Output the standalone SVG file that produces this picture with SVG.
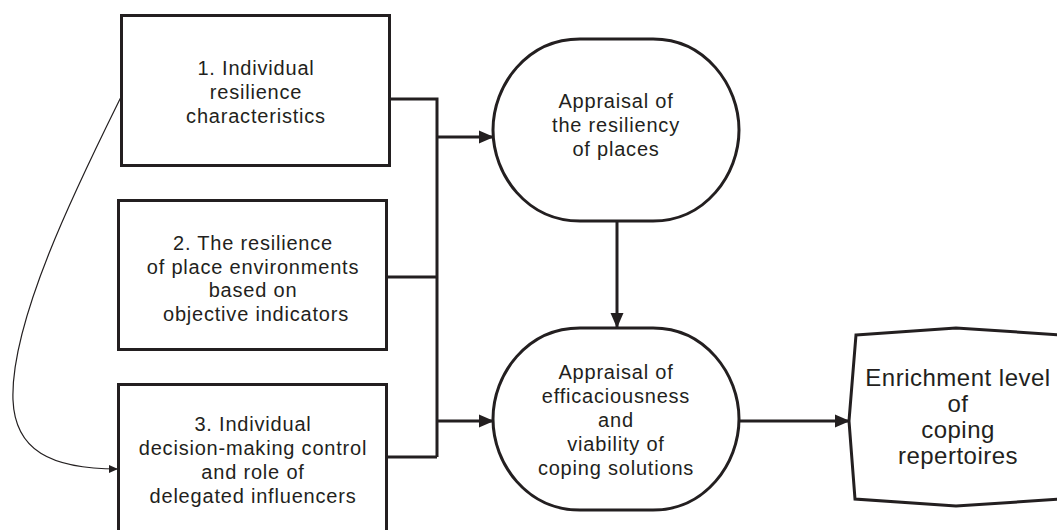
<svg xmlns="http://www.w3.org/2000/svg" width="1057" height="530" viewBox="0 0 1057 530">
  <style>
    .shape { fill: #ffffff; stroke: #231f20; stroke-width: 3; }
    .line { fill: none; stroke: #231f20; stroke-width: 3; }
    .thin { fill: none; stroke: #231f20; stroke-width: 1.2; }
    .t { font-family: "Liberation Sans", Arial, sans-serif; font-size: 20px; letter-spacing: 0.8px; fill: #231f20; text-anchor: middle; }
    .tb { font-family: "Liberation Sans", Arial, sans-serif; font-size: 24px; letter-spacing: 0.5px; fill: #231f20; text-anchor: middle; }
  </style>
  <defs>
    <marker id="arrow" markerUnits="userSpaceOnUse" markerWidth="16" markerHeight="16" viewBox="0 0 16 16" refX="15" refY="8" orient="auto">
      <path d="M0,1.5 L15,8 L0,14.5 Z" fill="#231f20"/>
    </marker>
    <marker id="arrowSmall" markerUnits="userSpaceOnUse" markerWidth="10" markerHeight="10" viewBox="0 0 10 10" refX="9" refY="5" orient="auto">
      <path d="M0,1 L9,5 L0,9 Z" fill="#231f20"/>
    </marker>
  </defs>

  <g id="connectors">
    <path class="line" d="M388,99 L437,99 L437,457"/>
    <path class="line" d="M388,277 L437,277"/>
    <path class="line" d="M388,457 L437,457"/>
    <path class="line" d="M437,137 L494,137" marker-end="url(#arrow)"/>
    <path class="line" d="M437,421 L494,421" marker-end="url(#arrow)"/>
    <path class="line" d="M617,221 L617,328" marker-end="url(#arrow)"/>
    <path class="line" d="M739,421 L850,421" marker-end="url(#arrow)"/>
    <path class="thin" d="M121,97 C80,180 10,320 13,400 C15,450 50,469 118,469" marker-end="url(#arrowSmall)"/>
  </g>

  <g id="node1">
    <rect class="shape" x="121.5" y="15.5" width="268" height="150"/>
    <text class="t" x="256" y="75">1. Individual</text>
    <text class="t" x="256" y="99">resilience</text>
    <text class="t" x="256" y="123">characteristics</text>
  </g>

  <g id="node2">
    <rect class="shape" x="118.5" y="200.5" width="268" height="149"/>
    <text class="t" x="253" y="250">2. The resilience</text>
    <text class="t" x="253" y="274">of place environments</text>
    <text class="t" x="253" y="297">based on</text>
    <text class="t" x="256" y="321">objective indicators</text>
  </g>

  <g id="node3">
    <rect class="shape" x="118.5" y="384.5" width="268" height="160"/>
    <text class="t" x="253" y="431">3. Individual</text>
    <text class="t" x="253" y="455">decision-making control</text>
    <text class="t" x="253" y="479">and role of</text>
    <text class="t" x="253" y="503">delegated influencers</text>
  </g>

  <g id="appraisal-places">
    <path class="shape" d="M580,39 L653,39 C705,39 739,85 739,130 C739,175 705,221 653,221 L580,221 C527,221 493,175 493,130 C493,85 527,39 580,39 Z"/>
    <text class="t" x="616" y="108">Appraisal of</text>
    <text class="t" x="616" y="132">the resiliency</text>
    <text class="t" x="616" y="156">of places</text>
  </g>

  <g id="appraisal-coping">
    <path class="shape" d="M580,328 L653,328 C705,328 739,374 739,419 C739,464 705,510 653,510 L580,510 C527,510 493,464 493,419 C493,374 527,328 580,328 Z"/>
    <text class="t" x="616" y="379">Appraisal of</text>
    <text class="t" x="616" y="403">efficaciousness</text>
    <text class="t" x="616" y="427">and</text>
    <text class="t" x="616" y="451">viability of</text>
    <text class="t" x="616" y="475">coping solutions</text>
  </g>

  <g id="enrichment">
    <path class="shape" d="M856,335 L956,328 L1062,335 L1066,421 L1062,499 L956,506 L855,499 L849,421 Z"/>
    <text class="tb" x="958" y="386">Enrichment level</text>
    <text class="tb" x="958" y="412">of</text>
    <text class="tb" x="958" y="438">coping</text>
    <text class="tb" x="958" y="464">repertoires</text>
  </g>
</svg>
